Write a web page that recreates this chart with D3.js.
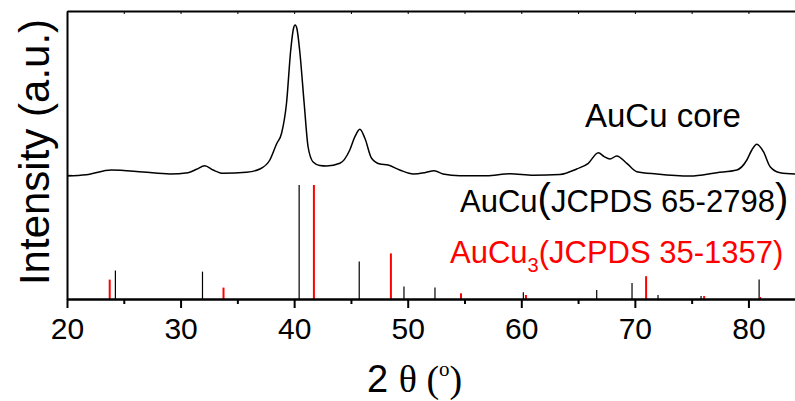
<!DOCTYPE html>
<html>
<head>
<meta charset="utf-8">
<script src="https://cdn.jsdelivr.net/npm/d3@7"></script>
<style>
  body { margin: 0; background: #fff; }
  svg { display: block; }
</style>
</head>
<body>
<div id="chart"></div>
<script>
// measured XRD pattern, AuCu core
const twoTheta = [20.0, 21.7, 23.9, 26.7, 29.05, 30.66, 31.4, 32.13, 32.86, 33.74, 35.8, 36.98,
  37.86, 38.45, 38.9, 39.33, 39.7, 39.95, 40.09, 40.25, 40.5, 40.88, 41.23, 41.67, 42.26, 42.85,
  44.03, 44.9, 45.35, 45.79, 46.23, 46.82, 47.55, 48.28, 49.3, 50.5, 51.5, 52.34, 53.1, 54.6,
  56.95, 59.0, 61.06, 63.4, 64.88, 65.9, 66.78, 67.3, 67.81, 68.4, 69.29, 70.17, 71.93, 74.86,
  77.22, 78.98, 79.86, 80.3, 80.74, 81.32, 81.91, 82.79, 84.1]
const counts = [40, 53, 100, 80, 60, 73, 107, 143, 100, 67, 77, 110,
  200, 360, 470, 770, 1300, 1520, 1550, 1510, 1280, 770, 330, 180, 145, 140,
  167, 300, 433, 507, 417, 217, 160, 150, 100, 60, 73, 93, 60, 43,
  43, 63, 47, 55, 110, 167, 273, 233, 210, 240, 167, 83, 60, 40,
  73, 100, 200, 300, 357, 283, 133, 73, 60]

// reference cards (relative intensity)
const aucuPos = [24.26, 31.93, 40.44, 45.73, 49.67, 52.4, 60.18, 66.64, 69.75, 72.04, 75.83, 80.94]
const aucuInt = [25, 24, 100, 33, 11, 10, 6, 8, 14, 3.5, 2.6, 17]
const aucu3Pos = [23.76, 33.78, 41.74, 48.52, 54.69, 60.41, 70.99, 76.1, 81.03]
const aucu3Int = [17, 10, 100, 40, 5, 3.5, 20, 2.6, 1.8]

const xTicks = [20, 30, 40, 50, 60, 70, 80]

const width = 795
const height = 401
const plotLeft = 67, plotTop = 11, plotBottom = 299

const svg = d3.select("#chart")
  .append("svg")
  .attr("width", width)
  .attr("height", height)

const x = d3.scaleLinear().domain([20, 84.1]).range([plotLeft, 795])
const yCurve = d3.scaleLinear().domain([0, 1690]).range([180, plotTop])
const yStick = d3.scaleLinear().domain([0, 100]).range([plotBottom, 185])

const font = "Arial, 'Liberation Sans', sans-serif"

// sticks
svg.append("g")
  .selectAll("line")
  .data(d3.zip(aucuPos, aucuInt))
  .join("line")
  .attr("x1", d => x(d[0])).attr("x2", d => x(d[0]))
  .attr("y1", yStick(0)).attr("y2", d => yStick(d[1]))
  .attr("stroke", "#000")
  .attr("stroke-width", 1.2)

svg.append("g")
  .selectAll("line")
  .data(d3.zip(aucu3Pos, aucu3Int))
  .join("line")
  .attr("x1", d => x(d[0])).attr("x2", d => x(d[0]))
  .attr("y1", yStick(0)).attr("y2", d => yStick(d[1]))
  .attr("stroke", "#ff0000")
  .attr("stroke-width", 2)

// pattern
const line = d3.line()
  .x(d => x(d[0]))
  .y(d => yCurve(d[1]))
  .curve(d3.curveMonotoneX)

svg.append("path")
  .datum(d3.zip(twoTheta, counts))
  .attr("d", line)
  .attr("fill", "none")
  .attr("stroke", "#000")
  .attr("stroke-width", 1.5)

// bottom axis
const xAxis = svg.append("g")
  .attr("transform", `translate(0,${plotBottom})`)
  .call(d3.axisBottom(x).tickValues(xTicks).tickSize(9).tickSizeOuter(0).tickPadding(10))
xAxis.select(".domain").attr("stroke-width", 2.5)
xAxis.selectAll(".tick line").attr("stroke-width", 2)
xAxis.selectAll("text").attr("font-family", font).attr("font-size", 30).attr("fill", "#000")

svg.append("g")
  .attr("transform", `translate(0,${plotBottom})`)
  .call(d3.axisBottom(x).tickValues(d3.range(25, 84, 10)).tickSize(5).tickFormat(""))
  .call(g => g.select(".domain").remove())
  .selectAll(".tick line").attr("stroke-width", 2)

// top frame
svg.append("g")
  .attr("transform", `translate(0,${plotTop})`)
  .call(d3.axisBottom(x).tickValues(d3.range(20, 84, 5)).tickSize(3).tickSizeOuter(0).tickFormat(""))
  .select(".domain").attr("stroke-width", 2)

// left frame
const yLeft = d3.scaleLinear().domain([0, 1]).range([plotBottom, plotTop])
svg.append("g")
  .attr("transform", `translate(${plotLeft},0)`)
  .call(d3.axisRight(yLeft).tickValues([0.431]).tickSize(5).tickSizeOuter(0).tickFormat(""))
  .select(".domain").attr("stroke-width", 2)

// labels
svg.append("text")
  .attr("x", 585).attr("y", 127)
  .attr("font-family", font).attr("font-size", 33)
  .text("AuCu core")

const t1 = svg.append("text")
  .attr("x", 460).attr("y", 212)
  .attr("font-family", font).attr("font-size", 31)
t1.append("tspan").text("AuCu")
t1.append("tspan").attr("font-size", 40).text("(")
t1.append("tspan").text("JCPDS 65-2798")
t1.append("tspan").attr("font-size", 40).text(")")

const t2 = svg.append("text")
  .attr("x", 450).attr("y", 263)
  .attr("font-family", font).attr("font-size", 31)
  .attr("fill", "#ff0000")
t2.append("tspan").text("AuCu")
t2.append("tspan").attr("font-size", 20).attr("dy", 9).text("3")
t2.append("tspan").attr("dy", -9).text("(JCPDS 35-1357)")

svg.append("text")
  .attr("transform", "translate(49,152) rotate(-90)")
  .attr("text-anchor", "middle")
  .attr("font-family", font).attr("font-size", 42)
  .text("Intensity (a.u.)")

const serif = "'Times New Roman', 'Liberation Serif', serif"
const xt = svg.append("text")
  .attr("x", 367).attr("y", 392)
  .attr("font-family", font).attr("font-size", 38)
xt.append("tspan").text("2 ")
xt.append("tspan").attr("font-family", serif).text("θ (")
xt.append("tspan").attr("font-family", serif).attr("font-size", 21).attr("dy", -16).text("o")
xt.append("tspan").attr("font-family", serif).attr("dy", 16).text(")")
</script>
</body>
</html>
